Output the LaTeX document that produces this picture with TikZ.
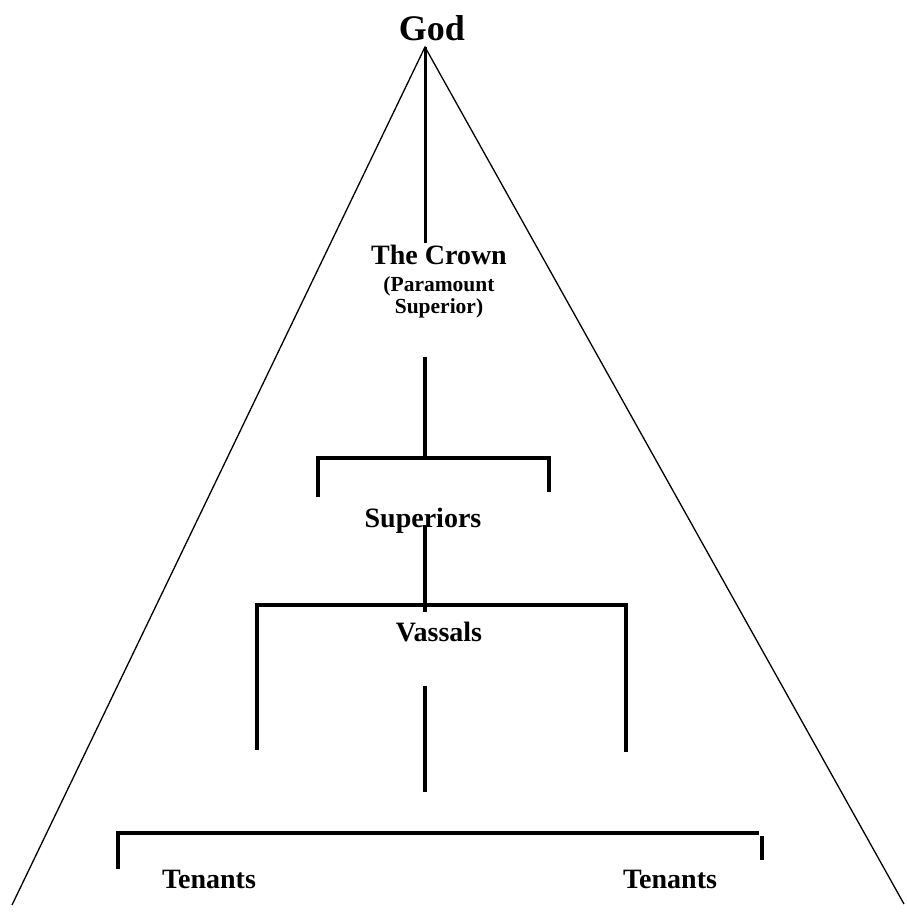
\documentclass[tikz,border=0pt]{standalone}
\usepackage{fontspec}
\setmainfont{Liberation Serif}
\begin{document}
\begin{tikzpicture}[x=1pt,y=-1pt,
  thin line/.style={line width=1.3pt, line cap=butt},
  thick line/.style={line width=3.6pt, line join=miter},
  label/.style={anchor=base, inner sep=0pt, font=\fontsize{28}{32}\selectfont\bfseries},
  sublabel/.style={anchor=base, inner sep=0pt, align=center, font=\fontsize{21.5}{22}\selectfont\bfseries},
  title/.style={anchor=base, inner sep=0pt, font=\fontsize{36}{40}\selectfont\bfseries}]
\useasboundingbox (0,0) rectangle (906,914);
% text nodes
\node[title] (god) at (432,40) {God};
\node[label] (crown) at (439,264) {The Crown};
\node[sublabel] (para) at (439,291) {(Paramount};
\node[sublabel] (sup) at (439,313) {Superior)};
\node[label] (superiors) at (423,527) {Superiors};
\node[label] (vassals) at (439,641) {Vassals};
\node[label] (tenL) at (209,888) {Tenants};
\node[label] (tenR) at (670,888) {Tenants};
% coordinates
\coordinate (apex) at (425,47);
\coordinate (baseL) at (12,905);
\coordinate (baseR) at (904,904);
\coordinate (crownTop) at (425,243);
\coordinate (crownBot) at (425,357);
\coordinate (supJoin) at (425,458);
\coordinate (supL) at (318,497);
\coordinate (supLt) at (318,458);
\coordinate (supRt) at (549,458);
\coordinate (supR) at (549,492);
\coordinate (supBot) at (425,525);
\coordinate (vasJoin) at (425,612);
\coordinate (vasL) at (257,750);
\coordinate (vasLt) at (257,605);
\coordinate (vasRt) at (626,605);
\coordinate (vasR) at (626,752);
\coordinate (vasBot) at (425,686);
\coordinate (tenJoin) at (425,792);
\coordinate (tenL0) at (118,869);
\coordinate (tenLt) at (118,833);
\coordinate (tenRt) at (759,833);
\coordinate (tenR0) at (762,836);
\coordinate (tenR1) at (762,860);
% triangle
\draw[thin line] (baseL) -- (apex) -- (baseR);
% tree lines
\draw[line width=3pt] (apex) -- (crownTop);
\draw[thick line] (crownBot) -- (supJoin);
\draw[thick line] (supL) -- (supLt) -- (supRt) -- (supR);
\draw[thick line] (supBot) -- (vasJoin);
\draw[thick line] (vasL) -- (vasLt) -- (vasRt) -- (vasR);
\draw[thick line] (vasBot) -- (tenJoin);
\draw[thick line] (tenL0) -- (tenLt) -- (tenRt);
\draw[thick line] (tenR0) -- (tenR1);
\end{tikzpicture}
\end{document}
